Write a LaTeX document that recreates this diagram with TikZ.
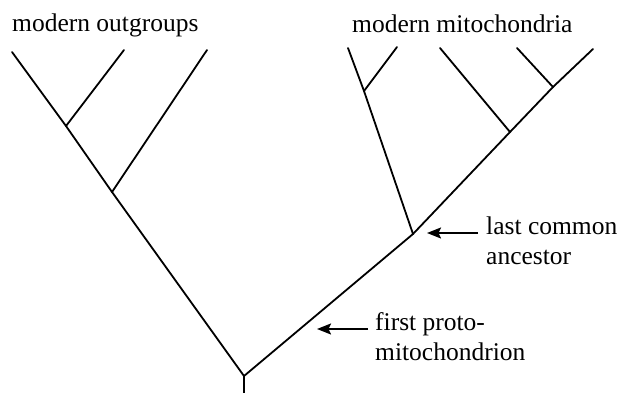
\documentclass[tikz,border=0pt]{standalone}
\usepackage{fontspec}
\setmainfont{Liberation Serif}
\usetikzlibrary{arrows.meta}
\begin{document}
\begin{tikzpicture}[x=1pt,y=-1pt,
  branch/.style={line width=1.8pt,line cap=round,line join=round},
  pointer/.style={line width=1.8pt,-{Stealth[length=14pt,width=11pt,inset=2.5pt]}},
  label/.style={anchor=base west,inner sep=0pt,font=\fontsize{25.5pt}{30pt}\selectfont}]
\useasboundingbox (0,0) rectangle (617,392);
% tree vertices
\coordinate (stem) at (244,393);
\coordinate (root) at (244,376);
% outgroup clade
\coordinate (out1) at (12,52);
\coordinate (na) at (66,126);
\coordinate (out2) at (124,50);
\coordinate (nb) at (112,192);
\coordinate (out3) at (207,50);
% mitochondrial clade
\coordinate (lca) at (413,234);
\coordinate (nc) at (364,91);
\coordinate (mit1) at (348,48);
\coordinate (mit2) at (397,47);
\coordinate (nd) at (510,132);
\coordinate (mit3) at (440,48);
\coordinate (ne) at (553,87);
\coordinate (mit4) at (517,48);
\coordinate (mit5) at (593,49);
% branches
\draw[branch] (stem) -- (root);
\draw[branch] (root) -- (nb) -- (na) -- (out1);
\draw[branch] (na) -- (out2);
\draw[branch] (nb) -- (out3);
\draw[branch] (root) -- (lca) -- (nd) -- (ne) -- (mit5);
\draw[branch] (lca) -- (nc) -- (mit1);
\draw[branch] (nc) -- (mit2);
\draw[branch] (nd) -- (mit3);
\draw[branch] (ne) -- (mit4);
% labels
\node[label] (tout) at (12,31) {modern outgroups};
\node[label] (tmit) at (352,32) {modern mitochondria};
\node[label] (tlca1) at (486,234) {last common};
\node[label] (tlca2) at (486,264) {ancestor};
\node[label] (tfp1) at (375,330) {first proto-};
\node[label] (tfp2) at (375,360) {mitochondrion};
% pointers
\coordinate (plca) at (427,233);
\coordinate (pfp) at (317,329);
\draw[pointer] (478,233) -- (plca);
\draw[pointer] (368,329) -- (pfp);
\end{tikzpicture}
\end{document}
